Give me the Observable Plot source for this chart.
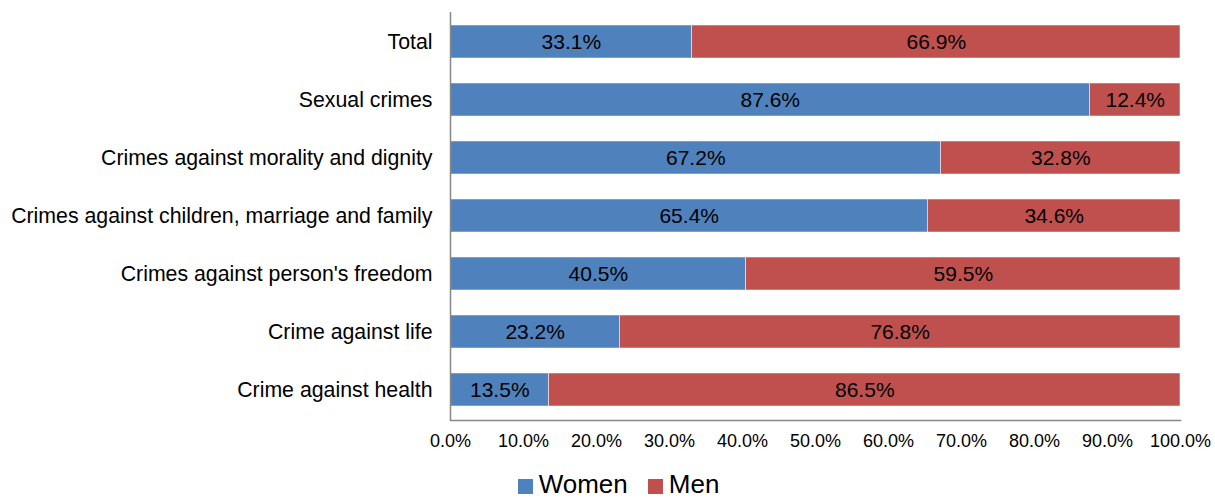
<!DOCTYPE html>
<html>
<head>
<meta charset="utf-8">
<script src="https://cdn.jsdelivr.net/npm/d3@7"></script>
<script src="https://cdn.jsdelivr.net/npm/@observablehq/plot@0.6"></script>
<style>
  body { margin: 0; background: #fff; font-family: "Liberation Sans", Arial, sans-serif; }
  #legend { display: flex; justify-content: center; align-items: center; gap: 20px; font-size: 26px; color: #000; margin-top: 9px; padding-left: 22px; line-height: 30px; }
  .item { display: flex; align-items: center; gap: 6px; }
  .sw { width: 15px; height: 15px; display: inline-block; margin-top: 4px; }
</style>
</head>
<body>
<div id="chart"></div>
<div id="legend"></div>
<script>
const categories = [
  "Total",
  "Sexual crimes",
  "Crimes against morality and dignity",
  "Crimes against children, marriage and family",
  "Crimes against person's freedom",
  "Crime against life",
  "Crime against health"
];
const women = [33.1, 87.6, 67.2, 65.4, 40.5, 23.2, 13.5];
const men = [66.9, 12.4, 32.8, 34.6, 59.5, 76.8, 86.5];
const seriesNames = ["Women", "Men"];
const seriesColors = ["#4F81BD", "#C0504D"];
const xTicks = [0, 10, 20, 30, 40, 50, 60, 70, 80, 90, 100];

const data = [];
categories.forEach((c, i) => {
  data.push({category: c, series: "Women", value: women[i], x1: 0, x2: women[i]});
  data.push({category: c, series: "Men", value: men[i], x1: women[i], x2: women[i] + men[i]});
});

const chart = Plot.plot({
  width: 1215,
  height: 460,
  marginLeft: 450,
  marginRight: 35,
  marginTop: 12,
  marginBottom: 40,
  style: {fontFamily: "Liberation Sans, Arial, sans-serif", color: "#000", background: "#fff"},
  x: {domain: [0, 100], label: null},
  y: {domain: categories, paddingInner: 0.43, paddingOuter: 0.215, label: null},
  color: {domain: seriesNames, range: seriesColors},
  marks: [
    Plot.barX(data, {y: "category", x1: "x1", x2: "x2", fill: "series", stroke: "#fff", strokeWidth: 0.5}),
    Plot.text(data, {y: "category", x: d => (d.x1 + d.x2) / 2, text: d => d.value.toFixed(1) + "%", fontSize: 21, fill: "#000"}),
    Plot.axisX({ticks: xTicks, tickFormat: d => d.toFixed(1) + "%", tickSize: 0, tickPadding: 14, fontSize: 18, label: null}),
    Plot.axisY({tickSize: 0, tickPadding: 18, fontSize: 21.3, label: null}),
    Plot.ruleX([0], {stroke: "#888", strokeWidth: 1.5}),
    Plot.frame({anchor: "bottom", stroke: "#888", strokeWidth: 1.5})
  ]
});
document.getElementById("chart").appendChild(chart);

const legend = document.getElementById("legend");
seriesNames.forEach((n, i) => {
  const it = document.createElement("span");
  it.className = "item";
  it.innerHTML = `<span class="sw" style="background:${seriesColors[i]}"></span><span>${n}</span>`;
  legend.appendChild(it);
});
</script>
</body>
</html>
